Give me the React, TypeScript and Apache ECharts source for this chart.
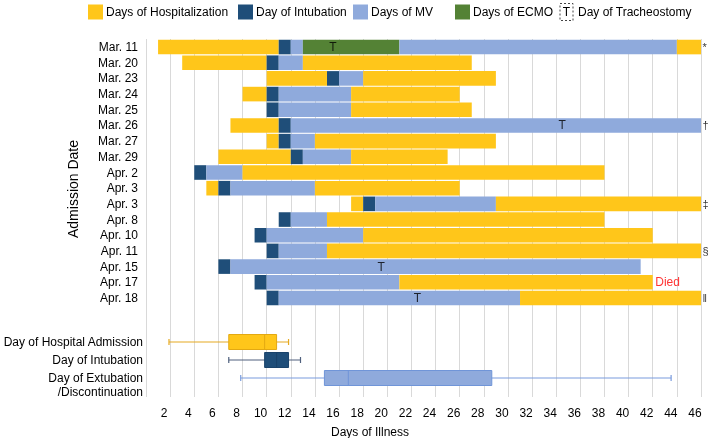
import React, { useEffect, useRef } from "react";
import * as echarts from "echarts";

// ---- data ----
const admissionDates = ["Mar. 11", "Mar. 20", "Mar. 23", "Mar. 24", "Mar. 25", "Mar. 26", "Mar. 27", "Mar. 29", "Apr. 2", "Apr. 3", "Apr. 3", "Apr. 8", "Apr. 10", "Apr. 11", "Apr. 15", "Apr. 17", "Apr. 18"];
const admissionDay = [2, 4, 11, 9, 11, 8, 11, 7, 5, 6, 18, 12, 10, 11, 7, 10, 11];
const intubationDay = [12, 11, 16, 11, 11, 12, 12, 13, 5, 7, 19, 12, 10, 11, 7, 10, 11];
const ecmoStartDay = [14, 0, 0, 0, 0, 0, 0, 0, 0, 0, 0, 0, 0, 0, 0, 0, 0];
const ecmoEndDay = [21, 0, 0, 0, 0, 0, 0, 0, 0, 0, 0, 0, 0, 0, 0, 0, 0];
const mvLastDay = [44, 13, 18, 17, 17, 46, 14, 17, 8, 14, 29, 15, 18, 15, 41, 21, 31];
const lastDay = [46, 27, 29, 26, 27, 46, 29, 25, 38, 26, 46, 38, 42, 46, 41, 42, 46];
const tracheostomyRows = [0, 5, 14, 16];
const tracheostomyDays = [16, 35, 20, 23];
const noteRows = [0, 5, 10, 13, 16];
const noteMarks = ["*", "†", "‡", "§", "‖"];
const diedRows = [15];
const illnessDays = Array.from({ length: 46 }, (_, i) => String(i + 1));

const boxLabels = ["Day of Hospital Admission", "Day of Intubation", "Day of Extubation\n/Discontinuation"];
const boxMin = [2, 7, 8];
const boxQ1 = [7, 10, 15];
const boxMedian = [10, 11, 17];
const boxQ3 = [11, 12, 29];
const boxMax = [12, 13, 44];

// ---- style ----
const YELLOW = "#FFC61A";
const DARK = "#1F4E79";
const LIGHT = "#8FAADC";
const GREEN = "#548235";
const FONT = '"Liberation Sans", Arial, sans-serif';
const boxFill = [YELLOW, DARK, LIGHT];
const boxStroke = ["#E3A912", "#1A436B", "#7095D8"];
const whiskerStroke = ["#E6AA22", "#50617E", "#7A9CDD"];

export default function App() {
  const ref = useRef<HTMLDivElement>(null);
  useEffect(() => {
    if (!ref.current) return;
    const chart = echarts.init(ref.current, undefined, { renderer: "svg" });

    const n = admissionDates.length;
    const offset: number[] = [];
    const hosp1: number[] = [];
    const intub: number[] = [];
    const mv1: number[] = [];
    const ecmo: number[] = [];
    const mv2: number[] = [];
    const hosp2: number[] = [];
    for (let i = 0; i < n; i++) {
      const hasEcmo = ecmoStartDay[i] > 0;
      offset.push(admissionDay[i] - 0.5);
      hosp1.push(intubationDay[i] - admissionDay[i]);
      intub.push(1);
      mv1.push(hasEcmo ? ecmoStartDay[i] - intubationDay[i] - 1 : mvLastDay[i] - intubationDay[i]);
      ecmo.push(hasEcmo ? ecmoEndDay[i] - ecmoStartDay[i] + 1 : 0);
      mv2.push(hasEcmo ? mvLastDay[i] - ecmoEndDay[i] : 0);
      hosp2.push(lastDay[i] - mvLastDay[i]);
    }

    const barCommon = {
      type: "bar",
      stack: "days",
      xAxisIndex: 1,
      yAxisIndex: 1,
      barWidth: 14.6,
      silent: true,
    };

    const legendY = 12;
    const legendText = (text: string, x: number) => ({
      type: "text",
      x,
      y: legendY,
      style: { text, fill: "#000", font: `12px ${FONT}`, verticalAlign: "middle", textVerticalAlign: "middle" },
    });
    const legendBox = (color: string, x: number) => ({
      type: "rect",
      shape: { x, y: legendY - 7.5, width: 15, height: 15 },
      style: { fill: color },
    });

    chart.setOption({
      animation: false,
      textStyle: { fontFamily: FONT },
      grid: [
        { left: 146, right: 8, top: 39, bottom: 41 },
        { left: 146, right: 8, top: 39.2, height: 266.6 },
        { left: 146, right: 8, top: 333, height: 54 },
      ],
      xAxis: [
        {
          type: "category",
          gridIndex: 0,
          data: illnessDays,
          boundaryGap: true,
          axisLine: { show: false },
          axisTick: { show: false },
          axisLabel: {
            interval: (index: number) => (index + 1) % 2 === 0,
            fontSize: 12,
            color: "#000",
            margin: 10,
          },
          splitLine: {
            show: true,
            interval: (index: number) => index % 2 === 0,
            lineStyle: { color: "#D9D9D9", width: 1 },
          },
        },
        { type: "value", gridIndex: 1, min: 0.5, max: 46.5, show: false },
        { type: "value", gridIndex: 2, min: 0.5, max: 46.5, show: false },
      ],
      yAxis: [
        { type: "value", gridIndex: 0, show: false },
        {
          type: "category",
          gridIndex: 1,
          data: admissionDates,
          inverse: true,
          axisLine: { show: false },
          axisTick: { show: false },
          splitLine: { show: false },
          axisLabel: { interval: 0, fontSize: 12, color: "#000", margin: 8 },
        },
        {
          type: "category",
          gridIndex: 2,
          data: boxLabels,
          inverse: true,
          axisLine: { show: false },
          axisTick: { show: false },
          splitLine: { show: false },
          axisLabel: {
            interval: 0,
            hideOverlap: false,
            fontSize: 12,
            color: "#000",
            margin: 8,
            lineHeight: 13.5,
            formatter: (value: string) => (value.indexOf("\n") >= 0 ? "\n" + value : value),
          },
        },
      ],
      series: [
        { ...barCommon, name: "offset", data: offset, itemStyle: { color: "rgba(0,0,0,0)" } },
        { ...barCommon, name: "Days of Hospitalization", data: hosp1, itemStyle: { color: YELLOW } },
        { ...barCommon, name: "Day of Intubation", data: intub, itemStyle: { color: DARK } },
        { ...barCommon, name: "Days of MV", data: mv1, itemStyle: { color: LIGHT } },
        { ...barCommon, name: "Days of ECMO", data: ecmo, itemStyle: { color: GREEN } },
        { ...barCommon, name: "Days of MV (after ECMO)", data: mv2, itemStyle: { color: LIGHT } },
        { ...barCommon, name: "Days of Hospitalization (after MV)", data: hosp2, itemStyle: { color: YELLOW } },
        {
          type: "scatter",
          name: "Day of Tracheostomy",
          xAxisIndex: 1,
          yAxisIndex: 1,
          symbolSize: 1,
          itemStyle: { color: "rgba(0,0,0,0)" },
          silent: true,
          data: tracheostomyRows.map((r, i) => [tracheostomyDays[i], r]),
          label: { show: true, position: "inside", formatter: "T", fontSize: 12, color: "#000" },
        },
        {
          type: "scatter",
          name: "notes",
          xAxisIndex: 1,
          yAxisIndex: 1,
          symbolSize: 1,
          itemStyle: { color: "rgba(0,0,0,0)" },
          silent: true,
          data: noteRows.map((r, i) => ({
            value: [lastDay[r] + 0.5, r],
            label: { formatter: noteMarks[i] },
          })),
          label: { show: true, position: "right", distance: 1, fontSize: 11, color: "#000" },
        },
        {
          type: "scatter",
          name: "died",
          xAxisIndex: 1,
          yAxisIndex: 1,
          symbolSize: 1,
          itemStyle: { color: "rgba(0,0,0,0)" },
          silent: true,
          data: diedRows.map((r) => [lastDay[r] + 0.5, r]),
          label: { show: true, position: "right", distance: 2, formatter: "Died", fontSize: 12, color: "#FF0000" },
        },
        {
          type: "custom",
          name: "boxplots",
          xAxisIndex: 2,
          yAxisIndex: 2,
          silent: true,
          encode: { x: [1, 2, 3, 4, 5], y: 0 },
          data: boxLabels.map((_, i) => [i, boxMin[i], boxQ1[i], boxMedian[i], boxQ3[i], boxMax[i]]),
          renderItem: (params: any, api: any) => {
            const i = api.value(0);
            const pMin = api.coord([api.value(1), i]);
            const pQ1 = api.coord([api.value(2), i]);
            const pMed = api.coord([api.value(3), i]);
            const pQ3 = api.coord([api.value(4), i]);
            const pMax = api.coord([api.value(5), i]);
            const y = pMin[1];
            const h = 15;
            const cap = 3;
            const ws = { stroke: whiskerStroke[i], lineWidth: 1.2 };
            return {
              type: "group",
              children: [
                { type: "line", shape: { x1: pMin[0], y1: y, x2: pMax[0], y2: y }, style: ws },
                { type: "line", shape: { x1: pMin[0], y1: y - cap, x2: pMin[0], y2: y + cap }, style: ws },
                { type: "line", shape: { x1: pMax[0], y1: y - cap, x2: pMax[0], y2: y + cap }, style: ws },
                {
                  type: "rect",
                  shape: { x: pQ1[0], y: y - h / 2, width: pQ3[0] - pQ1[0], height: h },
                  style: { fill: boxFill[i], stroke: boxStroke[i], lineWidth: 1 },
                },
                {
                  type: "line",
                  shape: { x1: pMed[0], y1: y - h / 2, x2: pMed[0], y2: y + h / 2 },
                  style: { stroke: boxStroke[i], lineWidth: 1 },
                },
              ],
            };
          },
        },
      ],
      graphic: [
        legendBox(YELLOW, 88),
        legendText("Days of Hospitalization", 106),
        legendBox(DARK, 238),
        legendText("Day of Intubation", 256),
        legendBox(LIGHT, 353),
        legendText("Days of MV", 371),
        legendBox(GREEN, 455),
        legendText("Days of ECMO", 473),
        {
          type: "rect",
          shape: { x: 560, y: legendY - 8.5, width: 13, height: 17 },
          style: { fill: "none", stroke: "#444", lineWidth: 1, lineDash: [2, 2] },
        },
        {
          type: "text",
          x: 566.5,
          y: legendY,
          style: { text: "T", fill: "#000", font: `12px ${FONT}`, align: "center", textAlign: "center", verticalAlign: "middle", textVerticalAlign: "middle" },
        },
        legendText("Day of Tracheostomy", 578),
        {
          type: "text",
          x: 73,
          y: 189,
          rotation: Math.PI / 2,
          style: { text: "Admission Date", fill: "#000", font: `14px ${FONT}`, align: "center", textAlign: "center", verticalAlign: "middle", textVerticalAlign: "middle" },
        },
        {
          type: "text",
          x: 370,
          y: 432,
          style: { text: "Days of Illness", fill: "#000", font: `12px ${FONT}`, align: "center", textAlign: "center", verticalAlign: "middle", textVerticalAlign: "middle" },
        },
      ],
    });
    return () => chart.dispose();
  }, []);
  return <div ref={ref} style={{ position: "fixed", left: 0, top: 0, width: 709, height: 438 }} />;
}
